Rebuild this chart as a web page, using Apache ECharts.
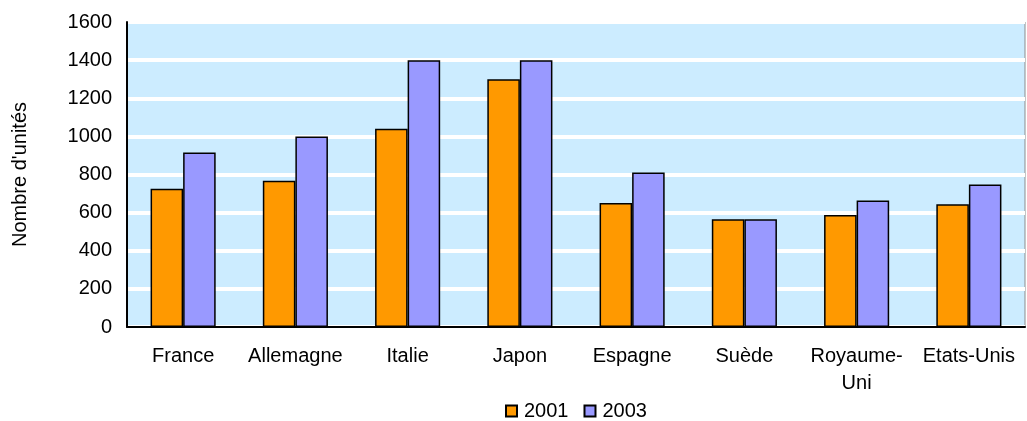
<!DOCTYPE html>
<html>
<head>
<meta charset="utf-8">
<script src="https://cdn.jsdelivr.net/npm/echarts@6/dist/echarts.min.js"></script>
<style>
  html, body { margin: 0; padding: 0; background: #fff; }
  #chart { width: 1027px; height: 421px; }
</style>
</head>
<body>
<div id="chart"></div>
<script>
// pays et valeurs
var pays = ['France', 'Allemagne', 'Italie', 'Japon', 'Espagne', 'Suède', 'Royaume-\nUni', 'Etats-Unis'];
var annees = ['2001', '2003'];
var val2001 = [725, 767, 1040, 1300, 650, 565, 588, 644];
var val2003 = [915, 1000, 1400, 1400, 810, 565, 663, 747];

var font = 'Liberation Sans, Arial, sans-serif';

var myChart = echarts.init(document.getElementById('chart'));
myChart.setOption({
    animation: false,
    textStyle: {fontFamily: font},
    grid: {
        left: 127, right: 2, top: 22, bottom: 94,
        show: true,
        backgroundColor: '#CCECFF',
        borderColor: '#8c8c8c',
        borderWidth: 1
    },
    legend: {
        top: 401,
        left: 505,
        padding: 0,
        itemWidth: 11,
        itemHeight: 11,
        itemGap: 15,
        icon: 'rect',
        textStyle: {fontSize: 20, color: '#000', fontFamily: font, padding: [0, 0, 0, 2]},
        data: annees
    },
    xAxis: {
        type: 'category',
        data: pays,
        axisLine: {lineStyle: {color: '#000', width: 2}},
        axisTick: {show: false},
        axisLabel: {color: '#000', fontSize: 20, margin: 16, lineHeight: 27, interval: 0}
    },
    yAxis: {
        type: 'value',
        min: 0,
        max: 1600,
        interval: 200,
        name: "Nombre d'unités",
        nameLocation: 'middle',
        nameGap: 97,
        nameTextStyle: {color: '#000', fontSize: 20},
        axisLine: {show: true, lineStyle: {color: '#000', width: 2}},
        axisTick: {show: false},
        axisLabel: {color: '#000', fontSize: 20, margin: 15, formatter: function (v) { return String(v); }},
        splitLine: {lineStyle: {color: '#fff', width: 4}}
    },
    series: [
        {
            name: annees[0],
            type: 'bar',
            data: val2001,
            barGap: '0%',
            barCategoryGap: '42%',
            itemStyle: {color: '#FF9900', borderColor: '#000', borderWidth: 1.5}
        },
        {
            name: annees[1],
            type: 'bar',
            data: val2003,
            itemStyle: {color: '#9999FF', borderColor: '#000', borderWidth: 1.5}
        }
    ]
});
</script>
</body>
</html>
